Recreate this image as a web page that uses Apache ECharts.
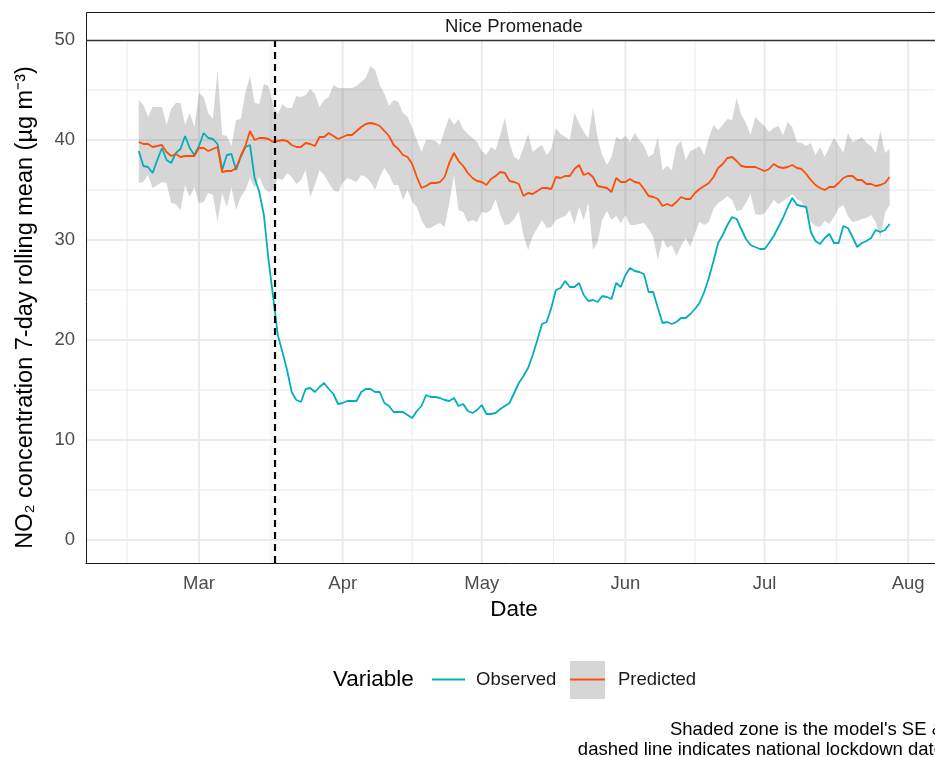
<!DOCTYPE html>
<html><head><meta charset="utf-8">
<script src="https://cdn.jsdelivr.net/npm/echarts@6/dist/echarts.min.js"></script>
<style>html,body{margin:0;padding:0;background:#fff}#chart{width:935px;height:757px}</style>
</head><body><div id="chart"></div>
<script>
// Days are counted relative to 1 March 2020 (day 0). Series start 17 Feb (day -13).
const startDay = -13;
const observed = [
38.9,37.4,37.3,36.7,38.0,39.2,38.0,37.7,38.7,39.1,
40.4,39.2,38.5,39.4,40.7,40.2,40.1,39.6,37.0,38.5,
38.6,37.0,38.3,39.3,39.5,36.2,34.8,32.5,28.0,24.3,
20.5,18.8,17.0,14.8,14.0,13.8,15.1,15.2,14.8,15.3,
15.7,15.1,14.6,13.6,13.7,13.9,13.9,13.9,14.8,15.1,
15.1,14.8,14.8,13.7,13.4,12.8,12.8,12.8,12.5,12.2,
12.9,13.4,14.5,14.3,14.3,14.2,14.0,13.9,14.2,13.4,
13.6,12.9,12.7,13.0,13.5,12.6,12.6,12.7,13.1,13.4,
13.7,14.7,15.7,16.4,17.2,18.5,20.0,21.6,21.8,23.2,
25.0,25.2,25.9,25.3,25.3,25.7,24.5,23.9,24.0,23.8,
24.4,24.3,24.1,25.7,25.3,26.5,27.2,26.9,26.8,26.6,
24.8,24.8,23.2,21.7,21.8,21.6,21.8,22.2,22.2,22.6,
23.1,23.7,24.8,26.2,27.9,29.7,30.5,31.5,32.3,32.1,
31.1,30.1,29.5,29.3,29.1,29.1,29.7,30.4,31.3,32.2,
33.3,34.2,33.5,33.4,33.3,30.8,29.9,29.6,30.2,30.6,
29.7,29.7,31.4,31.2,30.3,29.3,29.7,29.9,30.2,31.0,
30.8,31.0,31.6];
const predicted = [
39.8,39.6,39.6,39.3,39.4,39.5,38.8,38.4,38.6,38.3,
38.4,38.4,38.4,39.2,39.2,38.9,39.1,39.3,36.8,36.9,
36.9,37.2,38.4,39.4,40.9,40.0,40.2,40.2,40.1,39.8,
39.9,40.0,39.9,39.5,39.3,39.3,39.7,39.6,39.4,40.3,
40.3,40.7,40.4,40.1,40.3,40.5,40.5,40.9,41.3,41.6,
41.7,41.6,41.4,40.9,40.4,39.5,39.1,38.5,38.3,37.6,
36.3,35.2,35.4,35.7,35.7,35.8,36.3,37.7,38.7,37.9,
37.4,36.7,36.2,35.9,35.8,35.5,36.1,36.4,36.8,36.7,
35.9,35.8,35.6,34.4,34.7,34.6,34.9,35.2,35.2,35.1,
36.3,36.2,36.4,36.4,37.1,37.5,36.5,36.7,36.3,35.4,
35.3,35.2,34.8,36.2,35.8,35.8,36.1,35.8,35.7,35.1,
34.4,34.3,34.1,33.4,33.6,33.4,33.8,34.3,34.1,34.1,
34.7,35.1,35.4,35.7,36.3,37.2,37.6,38.2,38.3,37.9,
37.4,37.3,37.3,37.3,37.1,36.9,37.1,37.6,37.3,37.2,
37.3,37.5,37.2,37.1,36.6,36.0,35.5,35.2,35.0,35.3,
35.3,35.7,36.2,36.4,36.4,36.0,36.0,35.6,35.6,35.4,
35.5,35.7,36.3];
const upper = [
44.0,43.5,42.3,43.3,43.3,43.3,41.5,43.1,43.7,43.7,
41.5,42.7,41.3,44.7,44.3,42.7,42.1,47.0,40.5,40.4,
39.4,42.0,42.1,44.7,46.4,43.7,43.6,45.6,45.4,43.5,
42.6,43.6,43.2,43.2,44.4,44.3,44.5,45.1,44.6,43.3,
44.0,44.3,45.5,45.2,45.2,45.2,45.2,45.4,45.8,46.2,
47.4,47.0,45.5,44.6,43.4,44.0,43.8,42.7,42.3,41.2,
40.0,38.8,40.0,40.0,39.9,39.5,41.0,42.3,41.5,42.1,
41.1,40.6,40.2,39.8,38.9,38.5,39.3,39.0,40.5,42.2,
39.7,38.3,38.0,39.2,40.6,38.8,39.2,39.5,38.5,39.1,
41.2,40.6,40.3,40.0,42.7,41.7,40.8,40.2,43.3,40.2,
38.5,37.5,38.3,40.3,40.0,40.4,39.8,40.7,40.0,39.4,
38.3,38.6,40.3,37.0,37.4,37.0,39.4,39.9,38.0,38.9,
39.1,39.4,38.5,40.2,41.5,41.0,41.5,42.1,42.0,44.2,
42.5,41.7,40.5,42.3,41.8,41.4,40.8,41.2,41.4,40.5,
41.8,41.3,39.8,39.7,39.4,39.7,38.5,39.3,38.3,39.3,
40.2,39.5,38.7,40.7,39.8,40.0,40.3,39.7,39.4,38.7,
40.9,38.7,39.1];
const lower = [
35.7,35.8,36.5,35.2,35.5,35.8,35.7,33.7,33.6,33.0,
35.5,34.3,35.3,33.7,33.8,34.7,34.5,31.8,34.7,33.3,
35.3,33.0,34.3,35.0,36.2,35.2,36.3,35.2,34.8,35.0,
36.2,36.0,36.7,36.3,35.6,36.0,37.0,34.3,35.5,37.0,
36.5,35.7,35.0,34.8,35.7,36.2,36.0,35.8,36.5,36.3,
35.8,35.0,36.3,37.2,36.5,35.5,35.5,34.0,35.0,33.8,
33.3,32.0,31.2,31.2,31.5,31.7,31.3,33.7,36.5,33.0,
32.8,31.8,32.0,31.8,32.8,32.7,33.0,34.1,32.5,31.5,
31.6,32.1,32.9,30.5,29.0,30.4,31.2,32.0,31.2,31.3,
32.0,32.2,32.4,33.0,31.6,33.3,32.0,33.7,29.0,29.8,
32.0,32.9,32.0,32.4,31.7,32.5,31.5,31.5,31.6,31.7,
31.1,30.3,28.0,30.1,29.2,29.5,28.4,29.4,30.2,29.3,
30.7,31.8,31.5,31.8,33.1,33.7,34.0,34.4,34.0,32.9,
33.0,33.7,34.6,32.6,32.5,32.7,33.3,34.0,33.6,33.9,
34.2,34.6,34.1,33.8,33.0,31.8,31.4,31.3,31.9,31.6,
32.3,33.2,33.5,32.4,31.8,31.9,32.1,32.2,32.5,31.8,
30.2,32.7,33.5];
const monthTicks = [0, 31, 61, 92, 122, 153];
const monthLabels = ['Mar', 'Apr', 'May', 'Jun', 'Jul', 'Aug'];
const minorXTicks = [-15.5, 15.5, 46, 76.5, 107, 137.5];
const yTicks = [0, 10, 20, 30, 40, 50];
const yMinorTicks = [5, 15, 25, 35, 45];
const lockdownDay = 16.45; // 17 March 2020

const days = observed.map((_, i) => startDay + i);
const FONT = '"Liberation Sans", Arial, Helvetica, sans-serif';
const BAND = 'rgba(51,51,51,0.2)';
const TEAL = '#00AFBB';
const ORANGE = '#FC4E07';

const chart = echarts.init(document.getElementById('chart'), null, {renderer: 'canvas'});

const xGridData = monthTicks.map(v => [v, 0, 1]).concat(minorXTicks.map(v => [v, 0, 0]));
const yGridData = yTicks.map(v => [0, v, 1]).concat(yMinorTicks.map(v => [0, v, 0]));

const option = {
  animation: false,
  backgroundColor: '#fff',
  textStyle: {fontFamily: FONT},
  grid: {left: 86, top: 40, width: 856, height: 523, containLabel: false, outerBoundsMode: 'none'},
  xAxis: {
    type: 'value', min: -24.38, max: 160.3,
    splitLine: {show: false},
    axisTick: {show: false},
    axisLine: {show: true, onZero: false, lineStyle: {color: '#1a1a1a', width: 1}},
    axisLabel: {
      customValues: monthTicks, color: '#4d4d4d', fontSize: 18.5, margin: 11, fontFamily: FONT,
      formatter: v => { const k = monthTicks.indexOf(v); return k >= 0 ? monthLabels[k] : ''; }
    },
    name: 'Date', nameLocation: 'middle', nameGap: 35,
    nameTextStyle: {fontSize: 22.5, color: '#000', fontFamily: FONT}
  },
  yAxis: {
    type: 'value', min: -2.3, max: 50,
    splitLine: {show: false},
    axisTick: {show: false},
    axisLine: {show: true, onZero: false, lineStyle: {color: '#1a1a1a', width: 1}},
    axisLabel: {
      customValues: yTicks, color: '#4d4d4d', fontSize: 18.5, margin: 11, fontFamily: FONT,
      formatter: v => (yTicks.indexOf(v) >= 0 ? String(v) : '')
    },
    name: 'NO\u2082 concentration 7-day rolling mean (\u00b5g m\u207b\u00b3)',
    nameLocation: 'middle', nameGap: 48,
    nameTextStyle: {fontSize: 23.5, color: '#000', fontFamily: FONT, padding: [0, 12, 0, 0]}
  },
  legend: [
    {
      data: [{name: 'Observed', icon: 'rect', itemStyle: {color: TEAL}}],
      left: 432, top: 670, itemWidth: 33, itemHeight: 2, padding: 0, selectedMode: false,
      textStyle: {fontSize: 18.5, color: '#1a1a1a', fontFamily: FONT, padding: [0, 0, 0, 6]}
    },
    {
      data: [{name: 'SE band', icon: 'rect', itemStyle: {color: BAND}}],
      left: 570, top: 661, itemWidth: 35, itemHeight: 38, padding: 0, selectedMode: false, z: 3,
      formatter: () => ' ', textStyle: {color: 'rgba(0,0,0,0)', fontSize: 10}
    },
    {
      data: [{name: 'Predicted', icon: 'rect', itemStyle: {color: ORANGE}}],
      left: 570, top: 670, itemWidth: 35, itemHeight: 2, padding: 0, selectedMode: false, z: 5,
      textStyle: {fontSize: 18.5, color: '#1a1a1a', fontFamily: FONT, padding: [0, 0, 0, 8]}
    }
  ],
  series: [
    {
      type: 'custom', name: 'gridX', silent: true, z: 0, data: xGridData,
      renderItem: (params, api) => {
        const p = api.coord([api.value(0), 0]);
        const cs = params.coordSys;
        return {type: 'line', shape: {x1: p[0], y1: cs.y, x2: p[0], y2: cs.y + cs.height},
                style: {stroke: '#ebebeb', lineWidth: api.value(2) ? 2 : 1}};
      }
    },
    {
      type: 'custom', name: 'gridY', silent: true, z: 0, data: yGridData,
      renderItem: (params, api) => {
        const p = api.coord([0, api.value(1)]);
        const cs = params.coordSys;
        return {type: 'line', shape: {x1: cs.x, y1: p[1], x2: cs.x + cs.width, y2: p[1]},
                style: {stroke: '#ebebeb', lineWidth: api.value(2) ? 2 : 1}};
      }
    },
    {
      type: 'custom', name: 'SE band', silent: true, z: 1,
      data: days.map((d, i) => [d, lower[i], upper[i]]),
      encode: {x: 0, y: [1, 2]},
      itemStyle: {color: BAND},
      renderItem: (params, api) => {
        if (params.dataIndex !== 0) return null;
        const pts = [];
        for (let i = 0; i < days.length; i++) pts.push(api.coord([days[i], upper[i]]));
        for (let i = days.length - 1; i >= 0; i--) pts.push(api.coord([days[i], lower[i]]));
        return {type: 'polygon', shape: {points: pts}, style: {fill: BAND}};
      }
    },
    {
      type: 'line', name: 'Observed', z: 3, symbol: 'none', showSymbol: false,
      data: days.map((d, i) => [d, observed[i]]),
      lineStyle: {color: TEAL, width: 1.8}, itemStyle: {color: TEAL},
      emphasis: {disabled: true},
      markLine: {
        silent: true, symbol: 'none', label: {show: false},
        lineStyle: {color: '#000', type: [7, 5], width: 2.2},
        emphasis: {disabled: true},
        data: [{xAxis: lockdownDay}]
      }
    },
    {
      type: 'line', name: 'Predicted', z: 4, symbol: 'none', showSymbol: false,
      data: days.map((d, i) => [d, predicted[i]]),
      lineStyle: {color: ORANGE, width: 1.8}, itemStyle: {color: ORANGE},
      emphasis: {disabled: true}
    }
  ],
  graphic: [
    {type: 'rect', silent: true, z: 10, shape: {x: 86.5, y: 12.5, width: 870, height: 28},
     style: {fill: '#fff', stroke: '#1a1a1a', lineWidth: 1}},
    {type: 'line', silent: true, z: 11, shape: {x1: 86, y1: 40.5, x2: 960, y2: 40.5},
     style: {stroke: '#333', lineWidth: 1.5}},
    {type: 'text', silent: true, z: 12, x: 514, y: 27,
     style: {text: 'Nice Promenade', font: '18.5px ' + FONT, fill: '#1a1a1a', textAlign: 'center', textVerticalAlign: 'middle'}},
    {type: 'text', silent: true, x: 333, y: 680,
     style: {text: 'Variable', font: '22.5px ' + FONT, fill: '#000', textAlign: 'left', textVerticalAlign: 'middle'}},
    {type: 'text', silent: true, x: 944, y: 720,
     style: {text: "Shaded zone is the model's SE &\ndashed line indicates national lockdown date",
             font: '18.5px ' + FONT, lineHeight: 20, fill: '#000', textAlign: 'right', textVerticalAlign: 'top'}}
  ]
};
chart.setOption(option);
</script>
</body></html>
